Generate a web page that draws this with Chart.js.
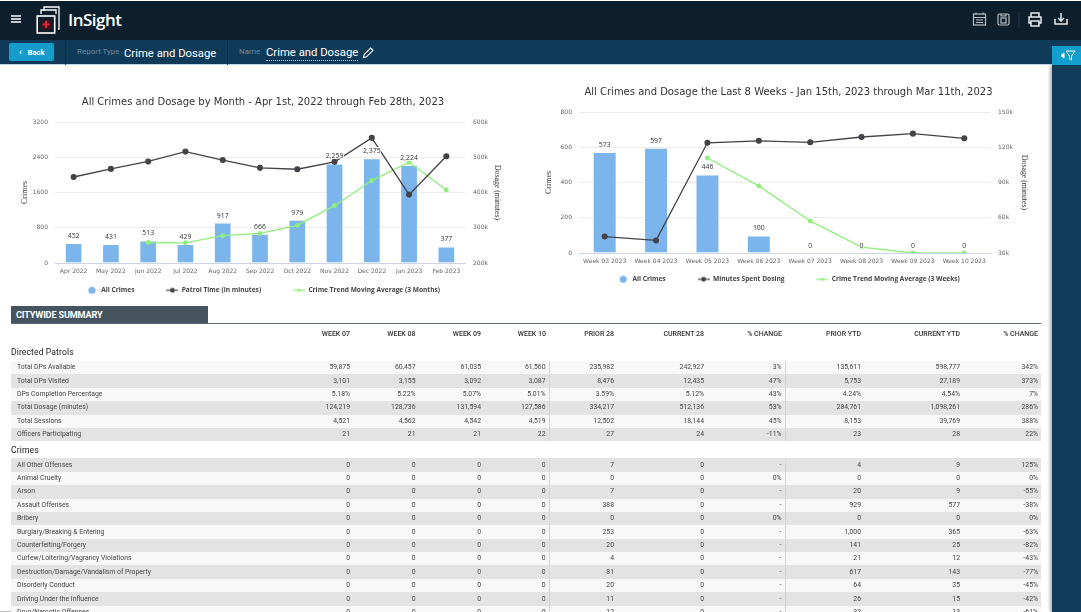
<!DOCTYPE html>
<html><head><meta charset="utf-8">
<script src="https://cdn.jsdelivr.net/npm/chart.js@4/dist/chart.umd.min.js"></script>
<style>
html,body{margin:0;padding:0;width:1081px;height:612px;overflow:hidden;background:#fff;font-family:Roboto,sans-serif}
.abs{position:absolute}
#top{left:0;top:1px;width:1081px;height:39px;background:#0d1f2d}
#sub{left:0;top:40px;width:1081px;height:25px;background:#0f3a58;border-bottom:1px solid #bcd9ea;box-sizing:border-box}
#side{left:1052px;top:65px;width:29px;height:547px;background:#0f3d5a;box-shadow:-2px 0 3px rgba(0,0,0,.3)}
#filter{left:1052px;top:46px;width:29px;height:19px;background:#129fcd}
.sep{top:40px;width:1px;height:25px;background:#0c3049}
#back{left:9px;top:43px;width:45px;height:18px;background:#159ccb;border-radius:2px;color:#fff;font:700 7.5px/18px Roboto;text-align:left}
.lbl{color:#6a8aa0;font:8px/1 Roboto}
.val{color:#fff;font:400 11.3px/1 Roboto;white-space:nowrap}
#tblbar{left:11px;top:306px;width:197px;height:17px;background:#46545f;color:#fff;font:700 9.2px/17px Roboto;padding-left:5px;box-sizing:border-box;letter-spacing:-.2px}
#rule{left:11px;top:323px;width:1030px;height:1px;background:#5b6b75}
canvas{position:absolute;display:block}
#tw{left:11px;top:324px;width:1030px;height:288px;overflow:hidden;filter:grayscale(1)}
table{border-collapse:collapse;table-layout:fixed;width:1030px;font:6.85px/1 Roboto;color:#444}
td,th{padding:0 3px 0 0;box-sizing:border-box;text-align:right;overflow:hidden;white-space:nowrap;height:13.4px}
th{font-weight:500;color:#333;height:20px;font-size:7px}
td:first-child,th:first-child{text-align:left;padding-left:6px}
tr.sec td{height:17px;font:8.6px/1 Roboto;color:#222;background:#fff;padding-left:0;letter-spacing:.1px}
tr.a td{background:#f8f8f8}
tr.b td{background:#e3e3e3}
td.s{border-right:1px solid #d5d5d5}
</style></head><body>
<div class="abs" id="top"></div>
<div class="abs" id="sub"></div>
<svg class="abs" style="left:11px;top:15px" width="10" height="8"><path d="M0 1h10M0 4h10M0 7h10" stroke="#fff" stroke-width="1.3"/></svg>
<svg class="abs" style="left:36px;top:6px" width="28" height="28" fill="none" stroke="#fff" stroke-width="1.3">
<path d="M8 5V1h15v22h-1M5 8V4h15v4"/><rect x="1.2" y="10" width="17.5" height="17" stroke-width="1.6"/>
<rect x="5" y="13.5" width="10" height="10" fill="#3a1219" stroke="none"/><path d="M10 15v7M6.5 18.5h7" stroke="#e8202f" stroke-width="2"/></svg>
<div class="abs" style="left:68px;top:7px;color:#fff;font:600 17px/26px 'Open Sans';letter-spacing:-.5px">InSight</div>
<div class="abs" id="back"><span style="margin-left:10px;font-size:9px">‹</span><span style="margin-left:6px">Back</span></div>
<div class="abs sep" style="left:65px"></div><div class="abs sep" style="left:227px"></div>
<div class="abs lbl" style="left:77px;top:48px">Report Type</div>
<div class="abs val" style="left:124px;top:48px">Crime and Dosage</div>
<div class="abs lbl" style="left:239px;top:48px">Name</div>
<div class="abs val" style="left:266px;top:47px;border-bottom:1px dotted #9fc0d6;padding-bottom:2px">Crime and Dosage</div>
<svg class="abs" style="left:362px;top:47px" width="12" height="12" fill="none" stroke="#fff" stroke-width="1.1"><path d="M1.5 10.5l.7-3L8.7 1l2.3 2.3-6.5 6.5z"/></svg>
<svg class="abs" style="left:972px;top:11px" width="110" height="18" fill="none" stroke="#b7bec4" stroke-width="1.2">
<rect x="1.5" y="3" width="12" height="11"/><path d="M1.5 6.5h12M4 1.5v2M11 1.5v2M4 9h7M4 11.5h7" stroke-width="1.1"/>
<rect x="26" y="3" width="11" height="11" rx="1.5"/><rect x="29" y="7" width="5" height="5"/><path d="M29 3v2h5V3"/>
<path d="M47 1v16" stroke="#27363f"/>
<path stroke="#e8eaec" stroke-width="1.5" d="M59 6V2h8v4M59 12h-2V6h12v6h-2M59 10h8v5h-8z"/>
<path stroke="#e8eaec" stroke-width="1.5" d="M83 8v5h12V8M89 2v8M86 7l3 3 3-3"/></svg>
<div class="abs" id="side"></div>
<div class="abs" id="filter"><svg width="29" height="19" fill="none" stroke="#fff" stroke-width="1"><path d="M9 9.5l3-2.5v5z" fill="#fff"/><path d="M14 5h9l-3.5 5v4l-2-1v-3z"/></svg></div>

<canvas id="c1" width="526" height="215" style="left:0;top:85px;width:526px;height:215px"></canvas>
<canvas id="c2" width="506" height="225" style="left:537px;top:75px;width:506px;height:225px"></canvas>

<div class="abs" id="tblbar">CITYWIDE SUMMARY</div>
<div class="abs" id="rule"></div>
<div class="abs" id="tw"><table><colgroup id="cg"></colgroup><tbody id="tb"></tbody></table></div>
<div class="abs" style="left:0;top:611px;width:11px;height:1px;background:#bbb"></div>

<script>
// ---------- chart 1 data ----------
const monthLabels = ["Apr 2022","May 2022","Jun 2022","Jul 2022","Aug 2022","Sep 2022","Oct 2022","Nov 2022","Dec 2022","Jan 2023","Feb 2023"];
const monthCrimes = [452,431,513,429,917,666,979,2259,2375,2224,377];
const monthPatrol = [444000,467000,488000,516000,492000,470000,466000,487000,555000,394000,503000];
const monthTrend = [null,null,465,458,620,671,854,1301,1871,2286,1659];
const monthTitle = "All Crimes and Dosage by Month - Apr 1st, 2022 through Feb 28th, 2023";
const monthLegend = ["All Crimes","Patrol Time (in minutes)","Crime Trend Moving Average (3 Months)"];
// ---------- chart 2 data ----------
const weekLabels = ["Week 03 2023","Week 04 2023","Week 05 2023","Week 06 2023","Week 07 2023","Week 08 2023","Week 09 2023","Week 10 2023"];
const weekCrimes = [573,597,446,100,0,0,0,0];
const weekDosing = [44000,40700,123800,125500,124219,128736,131594,127586];
const weekTrend = [null,null,539,381,182,33,0,0];
const weekTitle = "All Crimes and Dosage the Last 8 Weeks - Jan 15th, 2023 through Mar 11th, 2023";
const weekLegend = ["All Crimes","Minutes Spent Dosing","Crime Trend Moving Average (3 Weeks)"];
// ---------- table data ----------
const tableHeaders = ["","WEEK 07","WEEK 08","WEEK 09","WEEK 10","PRIOR 28","CURRENT 28","% CHANGE","PRIOR YTD","CURRENT YTD","% CHANGE"];
const patrolRows = [
["Total DPs Available","59,875","60,457","61,035","61,560","235,982","242,927","3%","135,611","598,777","342%"],
["Total DPs Visited","3,101","3,155","3,092","3,087","8,476","12,435","47%","5,753","27,189","373%"],
["DPs Completion Percentage","5.18%","5.22%","5.07%","5.01%","3.59%","5.12%","43%","4.24%","4.54%","7%"],
["Total Dosage (minutes)","124,219","128,736","131,594","127,586","334,217","512,136","53%","284,761","1,098,261","286%"],
["Total Sessions","4,521","4,562","4,542","4,519","12,502","18,144","45%","8,153","39,769","388%"],
["Officers Participating","21","21","21","22","27","24","-11%","23","28","22%"]];
const crimeRows = [
["All Other Offenses","0","0","0","0","7","0","-","4","9","125%"],
["Animal Cruelty","0","0","0","0","0","0","0%","0","0","0%"],
["Arson","0","0","0","0","7","0","-","20","9","-55%"],
["Assault Offenses","0","0","0","0","388","0","-","929","577","-38%"],
["Bribery","0","0","0","0","0","0","0%","0","0","0%"],
["Burglary/Breaking & Entering","0","0","0","0","253","0","-","1,000","365","-63%"],
["Counterfeiting/Forgery","0","0","0","0","20","0","-","141","25","-82%"],
["Curfew/Loitering/Vagrancy Violations","0","0","0","0","4","0","-","21","12","-43%"],
["Destruction/Damage/Vandalism of Property","0","0","0","0","81","0","-","617","143","-77%"],
["Disorderly Conduct","0","0","0","0","20","0","-","64","35","-45%"],
["Driving Under the Influence","0","0","0","0","11","0","-","26","15","-42%"],
["Drug/Narcotic Offenses","0","0","0","0","12","0","-","33","13","-61%"]];

const colBlue="#7cb5ec", colDark="#434348", colGreen="#90ed7d", F="'DejaVu Sans'";

function legendIcon(kind,color){
  const c=document.createElement('canvas');c.width=kind==='bar'?10:12;c.height=10;
  const x=c.getContext('2d');x.fillStyle=color;x.strokeStyle=color;
  if(kind==='bar'){x.beginPath();x.arc(5,5,3.6,0,7);x.fill();}
  else{x.lineWidth=1.2;x.beginPath();x.moveTo(0,5);x.lineTo(12,5);x.stroke();x.beginPath();x.arc(6,5,kind==='dark'?2.4:1.6,0,7);x.fill();}
  return c;
}
const valueLabels={id:'valueLabels',afterDatasetsDraw(ch){
  const ctx=ch.ctx,m=ch.getDatasetMeta(2);
  ctx.save();ctx.font="6.9px 'Open Sans'";ctx.textAlign='center';ctx.textBaseline='middle';ctx.lineJoin='round';
  m.data.forEach((b,i)=>{const t=ch.data.datasets[2].data[i].toLocaleString('en-US');
    ctx.lineWidth=2;ctx.strokeStyle='rgba(255,255,255,.85)';ctx.strokeText(t,b.x,b.y-7);
    ctx.fillStyle='#333';ctx.fillText(t,b.x,b.y-7);});
  ctx.restore();
}};
function legendFit(h,shift){return {id:'legendFit',
  beforeLayout(ch){const L=ch.legend;if(L&&!L._wrapped){const f=L.fit.bind(L);L.fit=function(){f();this.height=h;};L._wrapped=true;}},
  afterLayout(ch){const L=ch.legend;L.top-=shift;L.bottom=L.top+60;}};}
function make(id,o){
  return new Chart(document.getElementById(id),{
    data:{labels:o.labels,datasets:[
      {type:'line',label:o.legend[1],data:o.line,yAxisID:'y1',borderColor:colDark,backgroundColor:colDark,borderWidth:1.3,pointRadius:2.4,pointHoverRadius:2.4,order:1,tension:0},
      {type:'line',label:o.legend[2],data:o.trend,yAxisID:'y',borderColor:colGreen,backgroundColor:colGreen,borderWidth:1.3,pointRadius:1.8,order:2,tension:0,spanGaps:false},
      {type:'bar',label:o.legend[0],data:o.bars,yAxisID:'y',backgroundColor:colBlue,borderColor:'#fff',borderWidth:1,barPercentage:o.barPct,categoryPercentage:1,order:3}
    ]},
    plugins:[valueLabels,legendFit(o.legH,o.legShift)],
    options:{responsive:false,animation:false,devicePixelRatio:1,
      layout:{padding:o.padding},
      plugins:{tooltip:{enabled:false},
        title:{display:true,text:o.title,color:'#333',font:{family:F,size:10,weight:'normal'},padding:o.titlePad},
        legend:{position:'bottom',labels:{font:{family:"'Open Sans'",size:6.6,weight:'bold'},color:'#444',usePointStyle:true,pointStyleWidth:12,boxHeight:7,padding:o.legendGap,
          sort:(a,b)=>[2,0,1].indexOf(a.datasetIndex)-[2,0,1].indexOf(b.datasetIndex),
          generateLabels(ch){const its=Chart.defaults.plugins.legend.labels.generateLabels(ch);
            its.forEach(it=>{it.pointStyle=it.datasetIndex===2?legendIcon('bar',colBlue):it.datasetIndex===0?legendIcon('dark',colDark):legendIcon('green',colGreen);it.lineWidth=0;});return its;}}}},
      scales:{
        x:{grid:{display:false,drawTicks:false},border:{color:'#ccd6eb'},ticks:{font:{family:F,size:6},color:'#666',padding:5,maxRotation:0,autoSkip:false},afterFit:s=>{s.height=o.xH;}},
        y:{position:'left',min:0,max:o.lMax,grid:{color:'#ececec',drawTicks:false},border:{display:false},
          ticks:{stepSize:o.lStep,font:{family:F,size:6},color:'#666',padding:7,callback:v=>String(v)},
          title:{display:true,text:'Crimes',font:{family:"'Liberation Serif'",size:8},color:'#333',padding:{top:0,bottom:0}},afterFit:s=>{s.width=o.lW;}},
        y1:{position:'right',min:o.rMin,max:o.rMax,grid:{display:false,drawTicks:false},border:{display:false},
          ticks:{stepSize:o.rStep,font:{family:F,size:6},color:'#666',padding:8,callback:v=>(v/1000)+'k'},
          title:{display:true,text:'Dosage (minutes)',font:{family:"'Liberation Serif'",size:7.8},color:'#333',padding:{top:4,bottom:0}},afterFit:s=>{s.width=o.rW;}}
      }}
  });
}
make('c1',{labels:monthLabels,bars:monthCrimes,line:monthPatrol,trend:monthTrend,title:monthTitle,legend:monthLegend,barPct:.475,
  padding:{left:20,right:20,top:11,bottom:2},titlePad:{top:0,bottom:14},legendGap:32,legH:20,legShift:23,xH:15,lW:35,rW:41,lMax:3200,lStep:800,rMin:200000,rMax:600000,rStep:100000});
make('c2',{labels:weekLabels,bars:weekCrimes,line:weekDosing,trend:weekTrend,title:weekTitle,legend:weekLegend,barPct:.467,
  padding:{left:7,right:10,top:11,bottom:2},titlePad:{top:0,bottom:14},legendGap:32,legH:30,legShift:24,xH:15,lW:35,rW:43,lMax:800,lStep:200,rMin:30000,rMax:150000,rStep:30000});

// table
const cellRightEdges=[353,418.5,484,549,617,707,785,864,963,1041];
const labelColWidth=289;
const cg=document.getElementById('cg'), tb=document.getElementById('tb');
let last=11+labelColWidth;
[labelColWidth,...cellRightEdges.map(r=>{const w=r-last;last=r;return w;})].forEach(w=>{
  const c=document.createElement('col');c.style.width=w+'px';cg.appendChild(c);});
function addRow(cells,cls,tag){const tr=document.createElement('tr');if(cls)tr.className=cls;
  cells.forEach((v,i)=>{const td=document.createElement(tag||'td');td.textContent=v;
    if(cls==='a'||cls==='b'){if(i===4||i===7)td.className='s';}
    tr.appendChild(td);});tb.appendChild(tr);}
addRow(tableHeaders,null,'th');
addRow(["Directed Patrols",...Array(10).fill('')],'sec');
patrolRows.forEach((r,i)=>addRow(r,i%2?'b':'a'));
addRow(["Crimes",...Array(10).fill('')],'sec');
crimeRows.forEach((r,i)=>addRow(r,i%2?'a':'b'));
</script>
</body></html>
